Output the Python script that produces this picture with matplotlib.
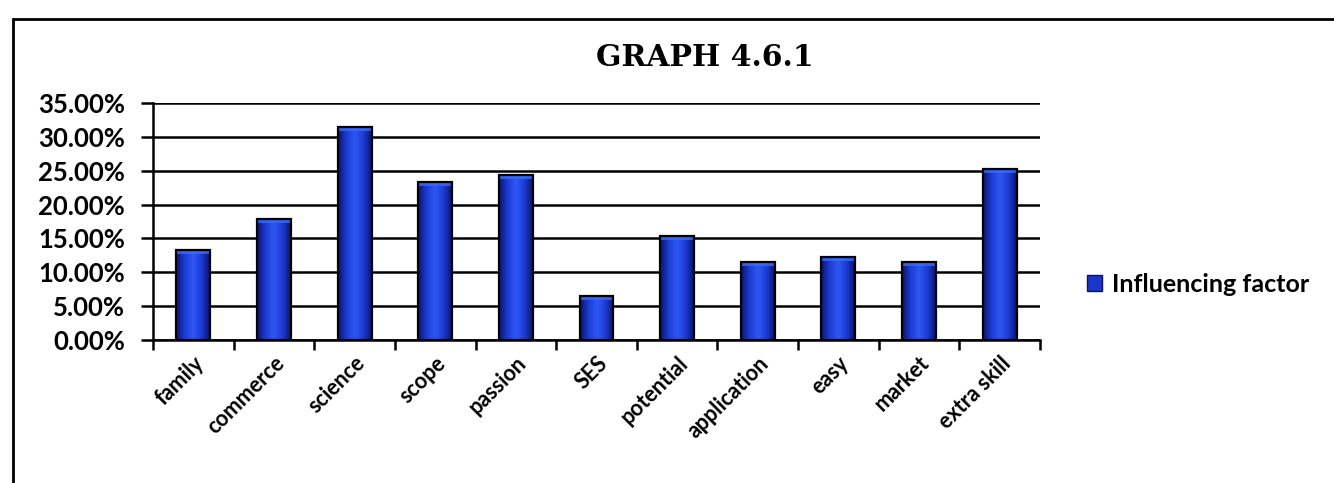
import numpy as np
import matplotlib
matplotlib.use("Agg")
import matplotlib.pyplot as plt
from matplotlib.colors import LinearSegmentedColormap
from matplotlib.patches import Rectangle
from matplotlib.ticker import PercentFormatter

categories = ["family", "commerce", "science", "scope", "passion", "SES",
              "potential", "application", "easy", "market", "extra skill"]
values = [0.133, 0.179, 0.315, 0.234, 0.244, 0.065,
          0.154, 0.115, 0.123, 0.115, 0.252]
series_name = "Influencing factor"
title = "GRAPH 4.6.1"

W, H = 1334, 483
fig = plt.figure(figsize=(W / 100, H / 100), dpi=100)
fig.patch.set_facecolor("white")

ax = fig.add_axes([153 / W, 1 - 340 / H, (1040 - 153) / W, (340 - 103) / H])

x = np.arange(len(categories))
bars = ax.bar(x, values, width=0.42, facecolor="none", edgecolor="black",
              linewidth=1.6, zorder=3)

cmap = LinearSegmentedColormap.from_list(
    "cyl", ["#0a1470", "#1c3cd4", "#3058f5", "#1c3cd4", "#0a1470"])
grad = np.linspace(0, 1, 64).reshape(1, -1)
for b in bars:
    x0, w, h = b.get_x(), b.get_width(), b.get_height()
    im = ax.imshow(grad, cmap=cmap, aspect="auto",
                   extent=[x0, x0 + w, 0, h], zorder=2, interpolation="bicubic")
    im.set_clip_path(b)
    cap = Rectangle((x0, h - 0.006), w, 0.006, facecolor="#3a6cf5",
                    edgecolor="none", zorder=2.5, alpha=0.8)
    ax.add_patch(cap)
    cap.set_clip_path(b)

ax.set_xlim(-0.5, len(categories) - 0.5)
ax.set_ylim(0, 0.35)
ax.set_yticks(np.arange(0, 0.351, 0.05))
ax.yaxis.set_major_formatter(PercentFormatter(1.0, decimals=2))
ax.grid(axis="y", color="black", linewidth=1.8, zorder=1)
ax.set_axisbelow(True)

ax.set_xticks(x)
ax.set_xticklabels(categories, rotation=45, ha="right", rotation_mode="anchor",
                   fontsize=15.5, fontweight="bold", family="Lato")
ax.set_xticks(np.arange(-0.5, len(categories)), minor=True)
ax.tick_params(axis="x", which="major", length=0, pad=9)
ax.tick_params(axis="x", which="minor", length=7, width=1.8, color="black")
ax.tick_params(axis="y", length=9, width=1.8, pad=11, labelsize=18.5)
for lab in ax.get_yticklabels():
    lab.set_fontweight("bold")
    lab.set_family("Lato")

for s in ["top", "right"]:
    ax.spines[s].set_visible(False)
ax.spines["left"].set_linewidth(1.8)
ax.spines["bottom"].set_linewidth(1.8)

fig.text(705 / W, 1 - 58 / H, title, ha="center", va="center",
         fontsize=21.5, fontweight="bold", family="DejaVu Serif")

handle = Rectangle((0, 0), 1, 1, facecolor="#1a35c8", edgecolor="#0a1470")
fig.legend([handle], [series_name], loc="center left",
           bbox_to_anchor=(1064 / W, 1 - 284 / H), frameon=False,
           handlelength=0.6, handleheight=0.6, handletextpad=0.4,
           prop={"family": "Lato", "weight": "bold", "size": 18})

# outer frame (top and left visible, rest cropped)
fig.add_artist(Rectangle((13 / W, -0.05), 1.2, 1 - 19 / H + 0.05,
                         transform=fig.transFigure, fill=False,
                         edgecolor="black", linewidth=2))

fig.savefig("out.png", dpi=100)
